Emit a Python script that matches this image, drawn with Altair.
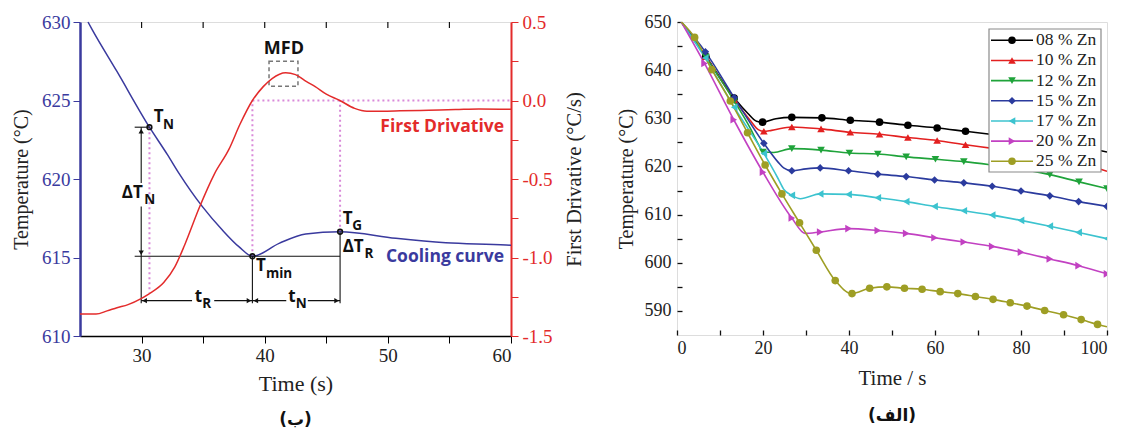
import altair as alt
import pandas as pd

BLUE = '#3a3a9e'
RED = '#e32b2b'
MAG = '#d98ad9'
SERIF = 'Liberation Serif'
SANS = 'Open Sans'

# ---------------- Left panel (ب) ----------------
cool_t = [25.65, 26.0, 28.0, 30.64, 32.1, 33.04, 34.94, 36.56, 37.9, 39.0, 41.17, 43.33, 46.12, 50.65, 54.7, 59.6, 60.0]
cool_T = [630.0, 629.5, 626.85, 623.3, 621.55, 620.36, 618.24, 616.75, 615.69, 615.08, 615.9, 616.5, 616.64, 616.22, 615.94, 615.8, 615.78]

deriv_t = [25.0, 26.3, 27.2, 28.0, 28.9, 30.0, 30.64, 31.8, 32.7, 33.5, 34.7, 35.9, 37.1, 38.0, 39.0, 39.9, 40.6,
           41.7, 42.5, 43.4, 44.1, 45.0, 46.1, 47.3, 48.3, 49.5, 51.0, 53.3, 55.5, 57.4, 60.0]
deriv_v = [-1.36, -1.36, -1.34, -1.32, -1.30, -1.26, -1.23, -1.16, -1.06, -0.92, -0.68, -0.47, -0.31, -0.15, 0.0,
           0.09, 0.14, 0.177, 0.165, 0.12, 0.088, 0.04, 0.0, -0.05, -0.068, -0.068, -0.066, -0.062, -0.058, -0.054, -0.056]

# black construction lines (start / end time, start / end temperature)
blk_t = [29.44, 29.97, 29.97, 29.44, 29.97, 29.97, 35.9, 39.0, 43.5, 39.0, 46.12]
blk_t2 = [30.64, 29.97, 29.97, 46.12, 29.97, 34.1, 39.0, 41.75, 46.12, 39.0, 46.12]
blk_T = [623.3, 623.3, 618.25, 615.08, 615.08, 612.25, 612.25, 612.25, 612.25, 615.08, 616.64]
blk_T2 = [623.3, 619.75, 615.08, 615.08, 612.08, 612.25, 612.25, 612.25, 612.25, 612.08, 612.08]

# magenta dotted guide lines
mag_t = [30.64, 39.0, 39.0, 46.12]
mag_t2 = [30.64, 39.0, 60.0, 46.12]
mag_T = [623.3, 615.08, 625.0, 616.64]
mag_T2 = [612.75, 625.0, 625.0, 625.0]

# arrow heads
arr_t = [29.97, 29.97, 30.25, 38.72, 39.28, 45.84]
arr_T = [623.05, 615.3, 612.25, 612.25, 612.25, 612.25]
arr_shape = ['triangle-up', 'triangle-down', 'triangle-left', 'triangle-right', 'triangle-left', 'triangle-right']

# characteristic points T_N, T_min, T_G
key_t = [30.64, 39.0, 46.12]
key_T = [623.3, 615.08, 616.64]

# MFD dashed box
mfd_t = [40.35]
mfd_t2 = [42.7]
mfd_T = [625.9]
mfd_T2 = [627.5]

# labels (main letters + subscripts)
lab_text = ['T', 'ΔT', 'T', 'ΔT', 'T', 't', 't']
lab_t = [30.98, 28.4, 46.33, 46.33, 39.3, 34.32, 41.92]
lab_T = [623.93, 619.1, 617.45, 615.69, 614.48, 612.5, 612.5]
sub_text = ['N', 'N', 'G', 'R', 'min', 'R', 'N']
sub_t = [31.74, 30.22, 47.1, 48.1, 40.1, 34.92, 42.52]
sub_T = [623.45, 618.65, 617.0, 615.25, 613.97, 612.02, 612.02]
mfd_label = ['MFD']
mfd_label_t = [41.56]
mfd_label_T = [628.28]

curve_names = ['First Drivative', 'Cooling curve']
curve_name_t = [59.44, 59.44]
curve_name_T = [623.33, 615.01]
curve_name_col = [RED, BLUE]

top_ticks = [30, 35, 40, 45, 50, 55]

LW, LH = 431, 314
XL = alt.Scale(domain=[25, 60], nice=False, zero=False)
YT = alt.Scale(domain=[610, 630], nice=False, zero=False)
YD = alt.Scale(domain=[-1.5, 0.5], nice=False, zero=False)

AXL = alt.Axis(
    values=[30, 35, 40, 45, 50, 55, 60], labelExpr="datum.value % 10 == 0 ? datum.label : ''",
    title='Time (s)', grid=False, tickSize=7, tickColor='black', domainColor='black', domainWidth=1.5,
    labelFont=SERIF, labelFontSize=19, labelColor='#222', labelPadding=3,
    titleFont=SERIF, titleFontSize=22, titleFontWeight='normal', titleColor='#222', titlePadding=8)
AYL = alt.Axis(
    values=[610, 615, 620, 625, 630], title='Temperature (°C)', grid=False,
    tickSize=7, tickColor=BLUE, domainColor=BLUE, domainWidth=2.5,
    labelFont=SERIF, labelFontSize=19, labelColor=BLUE, labelPadding=3,
    titleFont=SERIF, titleFontSize=20, titleFontWeight='normal', titleColor='#222', titlePadding=10)
AYD = alt.Axis(
    orient='right', values=[-1.5, -1.25, -1.0, -0.75, -0.5, -0.25, 0.0, 0.25, 0.5],
    labelExpr="abs(datum.value*2 - round(datum.value*2)) < 0.01 ? replace(format(datum.value, '.1f'), '\u2212', '-') : ''",
    title='First Drivative (°C/s)', titleAngle=270, titleBaseline='top', grid=False,
    tickSize=7, tickColor=RED, domainColor=RED, domainWidth=2,
    labelFont=SERIF, labelFontSize=19, labelColor=RED, labelPadding=4,
    titleFont=SERIF, titleFontSize=20.5, titleFontWeight='normal', titleColor='#222', titlePadding=12)

X1 = alt.X('t:Q', scale=XL, axis=AXL)
Y1 = alt.Y('T:Q', scale=YT, axis=AYL)


def seg_chart(t, t2, T, T2):
    return alt.Chart(pd.DataFrame({'t': t, 't2': t2, 'T': T, 'T2': T2}))


cool = alt.Chart(pd.DataFrame({'t': cool_t, 'T': cool_T})).mark_line(
    color=BLUE, strokeWidth=1.5, interpolate='monotone').encode(x=X1, y=Y1)

blk = seg_chart(blk_t, blk_t2, blk_T, blk_T2).mark_rule(color='#111', strokeWidth=1.1).encode(
    x=X1, x2='t2:Q', y=Y1, y2='T2:Q')

mag = seg_chart(mag_t, mag_t2, mag_T, mag_T2).mark_rule(color=MAG, strokeWidth=2, strokeDash=[2, 3]).encode(
    x=X1, x2='t2:Q', y=Y1, y2='T2:Q')

mfd_box = seg_chart(mfd_t, mfd_t2, mfd_T, mfd_T2).mark_rect(
    fill=None, stroke='#777', strokeWidth=1.5, strokeDash=[4, 3]).encode(x=X1, x2='t2:Q', y=Y1, y2='T2:Q')

arr = alt.Chart(pd.DataFrame({'t': arr_t, 'T': arr_T, 'shape': arr_shape})).mark_point(
    filled=True, color='#111', size=28, opacity=1).encode(
    x=X1, y=Y1, shape=alt.Shape('shape:N', scale=None, legend=None))

key = alt.Chart(pd.DataFrame({'t': key_t, 'T': key_T})).mark_point(
    filled=False, color='#111', size=22, strokeWidth=1.6, opacity=1).encode(x=X1, y=Y1)

lab = alt.Chart(pd.DataFrame({'txt': lab_text, 't': lab_t, 'T': lab_T})).mark_text(
    font=SANS, fontWeight='bold', fontSize=17, align='left', baseline='middle', color='#111').encode(
    x=X1, y=Y1, text='txt:N')

sub = alt.Chart(pd.DataFrame({'txt': sub_text, 't': sub_t, 'T': sub_T})).mark_text(
    font=SANS, fontWeight='bold', fontSize=13.5, align='left', baseline='middle', color='#111').encode(
    x=X1, y=Y1, text='txt:N')

mfdl = alt.Chart(pd.DataFrame({'txt': mfd_label, 't': mfd_label_t, 'T': mfd_label_T})).mark_text(
    font=SANS, fontWeight='bold', fontSize=18, align='center', baseline='middle', color='#111').encode(
    x=X1, y=Y1, text='txt:N')

cn = alt.Chart(pd.DataFrame({'txt': curve_names, 't': curve_name_t, 'T': curve_name_T, 'c': curve_name_col})).mark_text(
    font=SANS, fontWeight='bold', fontSize=17.5, align='right', baseline='middle').encode(
    x=X1, y=Y1, text='txt:N', color=alt.Color('c:N', scale=None, legend=None))

tt = alt.Chart(pd.DataFrame({'t': top_ticks})).mark_rule(color='#111', strokeWidth=1.2).encode(
    x=X1, y=alt.value(0), y2=alt.value(6))

deriv = alt.Chart(pd.DataFrame({'t': deriv_t, 'D': deriv_v})).mark_line(
    color=RED, strokeWidth=1.5, interpolate='monotone').encode(
    x=X1, y=alt.Y('D:Q', scale=YD, axis=AYD))

left = alt.layer(
    alt.layer(mag, cool, blk, mfd_box, arr, key, lab, sub, mfdl, cn, tt),
    deriv,
).resolve_scale(y='independent').properties(
    width=LW, height=LH,
    title=alt.TitleParams('(ب)', orient='bottom', anchor='middle', frame='group', font='DejaVu Sans',
                          fontSize=17, fontWeight='bold', color='#111', offset=18))

# ---------------- Right panel (الف) ----------------
names = ['08 % Zn', '10 % Zn', '12 % Zn', '15 % Zn', '17 % Zn', '20 % Zn', '25 % Zn']
colors = ['#000000', '#e32020', '#1fa33a', '#2b3b9e', '#3cc3cf', '#c241c2', '#9e9e24']
shapes = ['circle', 'triangle-up', 'triangle-down', 'diamond', 'triangle-left', 'triangle-right', 'circle']

s08_t = [1.0, 6.7, 13.3, 16.5, 18.5, 19.9, 23.0, 26.7, 33.7, 40.3, 47.1, 53.7, 60.5, 67.1, 73.8, 80.5, 87.2, 93.9, 100]
s08_T = [650.0, 642.9, 634.2, 631.0, 629.4, 629.2, 629.9, 630.2, 630.1, 629.6, 629.2, 628.55, 628.0, 627.3, 626.6, 625.8, 625.0, 624.1, 623.0]
s08_m = [0, 1, 1, 0, 0, 1, 0, 1, 1, 1, 1, 1, 1, 1, 1, 1, 1, 1, 0]

s10_t = [1.0, 6.7, 13.3, 17.0, 19.0, 20.2, 22.0, 26.7, 33.5, 40.3, 47.1, 53.7, 60.5, 67.1, 73.8, 80.5, 87.2, 93.9, 100]
s10_T = [650.0, 642.8, 633.9, 629.6, 627.6, 627.3, 627.5, 628.2, 627.8, 627.1, 626.7, 626.0, 625.4, 624.5, 623.7, 622.8, 621.8, 620.6, 619.0]
s10_m = [0, 1, 1, 0, 0, 1, 0, 1, 1, 1, 1, 1, 1, 1, 1, 1, 1, 1, 0]

s12_t = [1.0, 6.7, 13.3, 17.0, 19.0, 20.0, 22.5, 26.7, 33.5, 40.1, 46.7, 53.3, 60.1, 66.7, 73.3, 80.0, 86.7, 93.5, 100]
s12_T = [650.0, 642.7, 633.6, 628.0, 624.5, 623.0, 622.9, 623.7, 623.4, 622.8, 622.6, 622.0, 621.5, 621.0, 620.3, 619.5, 618.3, 616.8, 615.4]
s12_m = [0, 1, 1, 0, 0, 1, 0, 1, 1, 1, 1, 1, 1, 1, 1, 1, 1, 1, 1]

s15_t = [1.0, 6.6, 13.3, 20.2, 23.5, 24.8, 26.7, 30.0, 33.3, 39.9, 46.7, 53.3, 59.9, 66.7, 73.3, 80.0, 86.7, 93.4, 100]
s15_T = [650.0, 643.8, 634.3, 624.8, 620.9, 619.7, 619.1, 619.5, 619.7, 619.1, 618.4, 617.9, 617.2, 616.6, 615.9, 614.9, 613.9, 612.7, 611.7]
s15_m = [0, 1, 1, 1, 0, 0, 1, 0, 1, 1, 1, 1, 1, 1, 1, 1, 1, 1, 1]

s17_t = [1.0, 6.6, 13.3, 20.2, 23.5, 24.8, 26.7, 28.7, 33.3, 39.9, 46.7, 53.3, 59.9, 66.7, 73.3, 80.0, 86.7, 93.4, 100]
s17_T = [650.0, 642.5, 632.3, 622.7, 617.5, 615.3, 614.0, 613.3, 614.3, 614.2, 613.5, 612.7, 611.7, 610.8, 609.9, 608.8, 607.6, 606.3, 605.0]
s17_m = [0, 1, 1, 1, 0, 0, 1, 0, 1, 1, 1, 1, 1, 1, 1, 1, 1, 1, 1]

s20_t = [1.0, 6.4, 13.2, 20.0, 26.7, 29.8, 33.3, 39.9, 46.7, 53.3, 59.9, 66.7, 73.3, 80.0, 86.7, 93.4, 100]
s20_T = [650.0, 641.4, 629.7, 618.8, 609.3, 606.1, 606.4, 607.1, 606.7, 606.1, 605.2, 604.3, 603.4, 602.2, 600.8, 599.4, 597.7]
s20_m = [0, 1, 1, 1, 1, 0, 1, 1, 1, 1, 1, 1, 1, 1, 1, 1, 1]

s25_t = [1.0, 4.1, 8.1, 12.4, 16.4, 20.5, 24.4, 28.5, 32.4, 36.8, 40.7, 44.8, 48.8, 52.9, 57.0, 61.2, 65.3,
         69.4, 73.5, 77.5, 81.4, 85.5, 89.9, 94.0, 97.8, 100]
s25_T = [650.0, 646.8, 640.1, 633.6, 627.0, 620.3, 614.3, 608.3, 602.6, 596.3, 593.6, 594.7, 595.0, 594.7, 594.5,
         594.0, 593.6, 593.0, 592.4, 591.7, 591.0, 590.1, 589.2, 588.2, 587.2, 586.7]
s25_m = [0] + [1] * 24 + [0]

all_t = [s08_t, s10_t, s12_t, s15_t, s17_t, s20_t, s25_t]
all_T = [s08_T, s10_T, s12_T, s15_T, s17_T, s20_T, s25_T]
all_m = [s08_m, s10_m, s12_m, s15_m, s17_m, s20_m, s25_m]

rows = []
for nm, ts, Ts, ms in zip(names, all_t, all_T, all_m):
    for t, T, m in zip(ts, Ts, ms):
        rows.append({'series': nm, 't': t, 'T': T, 'm': m})
zn_df = pd.DataFrame(rows)

RW, RH = 430, 313
XR = alt.Scale(domain=[0, 100], nice=False, zero=False)
YR = alt.Scale(domain=[585, 650], nice=False, zero=False)
cscale = alt.Scale(domain=names, range=colors)
sscale = alt.Scale(domain=names, range=shapes)

AXR = alt.Axis(
    values=list(range(0, 101, 10)), labelExpr="datum.value % 20 == 0 ? datum.label : ''",
    title='Time / s', grid=False, domain=False, offset=-5, tickSize=5, tickColor='#111', tickWidth=1.3,
    labelFont=SERIF, labelFontSize=18, labelColor='#222', labelPadding=4,
    titleFont=SERIF, titleFontSize=21, titleFontWeight='normal', titleColor='#222', titlePadding=10)
AYR = alt.Axis(
    values=list(range(590, 651, 5)), labelExpr="datum.value % 10 == 0 ? datum.label : ''",
    title='Temperature (°C)', grid=False, domain=False, offset=-5, tickSize=5, tickColor='#111', tickWidth=1.3,
    labelFont=SERIF, labelFontSize=18, labelColor='#222', labelPadding=6,
    titleFont=SERIF, titleFontSize=20, titleFontWeight='normal', titleColor='#222', titlePadding=8)
X2 = alt.X('t:Q', scale=XR, axis=AXR)
Y2 = alt.Y('T:Q', scale=YR, axis=AYR)
C2 = alt.Color('series:N', scale=cscale, legend=None)
S2 = alt.Shape('series:N', scale=sscale, legend=None)

zn_lines = alt.Chart(zn_df).mark_line(strokeWidth=1.6, interpolate='monotone', clip=True).encode(
    x=X2, y=Y2, color=C2, order=alt.Order('t:Q'))

zn_pts = alt.Chart(zn_df).transform_filter('datum.m == 1').mark_point(
    filled=True, size=58, opacity=1, clip=True).encode(x=X2, y=Y2, color=C2, shape=S2)

leg_df = pd.DataFrame({'series': names})
legy = alt.Y('series:N', scale=alt.Scale(type='point', domain=names, range=[18.3, 139.3], padding=0), axis=None)
leg_box = alt.Chart(pd.DataFrame({'k': [0]})).mark_rect(fill='white', stroke='#8a8a8a', strokeWidth=1.2).encode(
    x=alt.value(312), x2=alt.value(424), y=alt.value(7), y2=alt.value(150))
leg_line = alt.Chart(leg_df).mark_rule(strokeWidth=1.6).encode(
    x=alt.value(314), x2=alt.value(356), y=legy, color=C2)
leg_pt = alt.Chart(leg_df).mark_point(filled=True, size=58, opacity=1).encode(
    x=alt.value(335), y=legy, color=C2, shape=S2)
leg_txt = alt.Chart(leg_df).mark_text(align='left', baseline='middle', font=SERIF, fontSize=17.5, color='#222').encode(
    x=alt.value(359), y=legy, text='series:N')

right = alt.layer(
    alt.layer(zn_lines, zn_pts),
    alt.layer(leg_box, leg_line, leg_pt, leg_txt),
).resolve_scale(y='independent').properties(
    width=RW, height=RH,
    title=alt.TitleParams('(الف)', orient='bottom', anchor='middle', frame='group', font='DejaVu Sans',
                          fontSize=17, fontWeight='bold', color='#111', offset=20))

chart = alt.hconcat(left, right, spacing=29).properties(
    padding={'left': 11, 'top': 12, 'right': 0, 'bottom': 0}
).configure_view(stroke='#111', strokeWidth=1.3).configure(background='white')

chart.save('out.html', embed_options={'renderer': 'svg', 'actions': False})
